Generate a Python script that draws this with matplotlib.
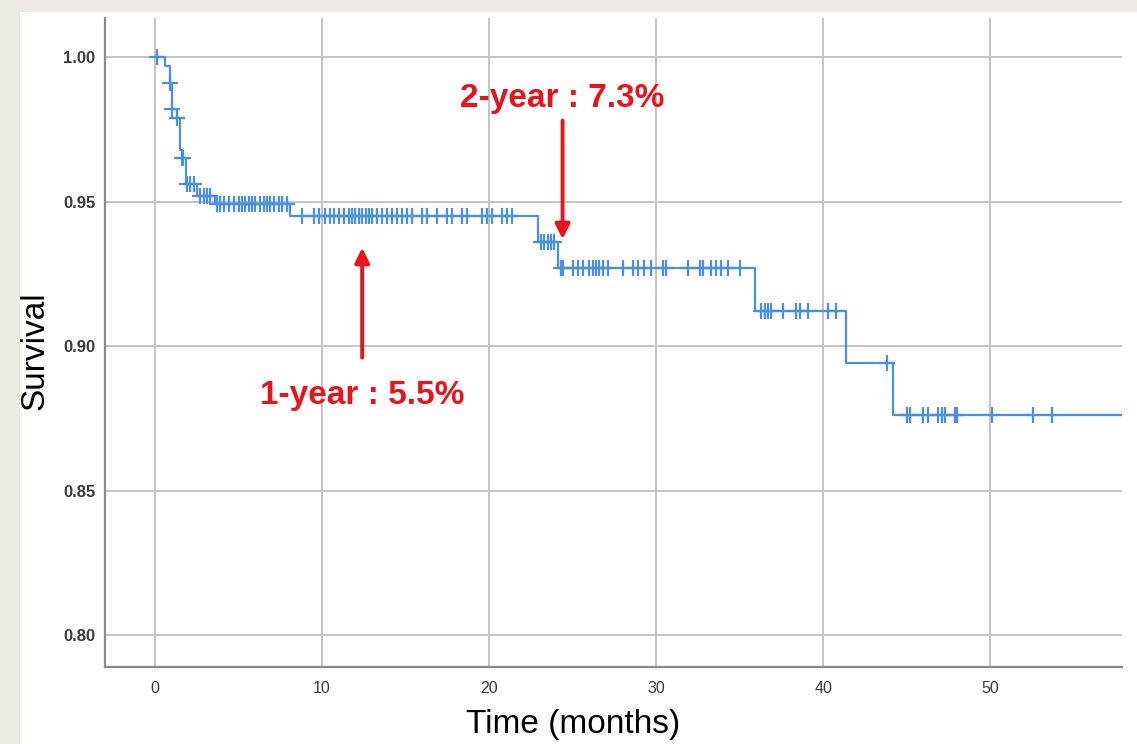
"""
Curva de supervivencia de Kaplan-Meier con marcas de censura
"""

import numpy as np
import matplotlib.pyplot as plt
from matplotlib.patches import Rectangle

# Tiempos de evento (meses) y supervivencia tras cada escalón
event_times = [0.0, 0.6, 0.9, 1.0, 1.3, 1.5, 1.6, 1.85, 2.5, 3.6,
               8.1, 22.9, 24.1, 35.9, 41.4, 44.2]
survival = [1.000, 0.997, 0.991, 0.982, 0.979, 0.968, 0.965, 0.956, 0.952, 0.949,
            0.945, 0.936, 0.927, 0.912, 0.894, 0.876]
t_end = 58.0

# Pacientes censurados (meses)
censor_times = [0.1, 0.9, 1.0, 1.3, 1.6, 1.7, 1.9, 2.1, 2.3,
                2.7, 2.9, 3.1, 3.3,
                3.7, 3.9, 4.1, 4.4, 4.7, 5.0, 5.2, 5.4, 5.6, 5.8, 6.0, 6.3,
                6.5, 6.7, 6.9, 7.1, 7.4, 7.6, 7.9,
                8.8, 9.5, 9.8, 10.2, 10.5, 10.7, 11.0, 11.3, 11.6, 11.8, 12.0,
                12.2, 12.4, 12.6, 12.8, 13.0, 13.3, 13.6, 13.9, 14.2, 14.5,
                14.8, 15.1, 15.4, 16.0, 16.3, 16.9, 17.5, 17.8, 18.4, 18.7,
                19.6, 19.9, 20.2, 20.8, 21.1, 21.4,
                23.1, 23.3, 23.5, 23.7, 23.9,
                24.3, 24.4, 25.0, 25.3, 25.6, 26.0, 26.2, 26.4, 26.6, 26.8,
                27.1, 28.0, 28.6, 28.9, 29.3, 29.7, 30.4, 30.6, 31.9, 32.6,
                32.8, 33.3, 33.6, 33.9, 34.3, 35.0,
                36.3, 36.5, 36.7, 36.9, 37.6, 38.4, 38.6, 39.1, 40.3, 40.8,
                43.8,
                45.0, 45.2, 46.0, 46.3, 46.9, 47.1, 47.3, 47.9, 48.0, 50.1,
                52.6, 53.7]

x_ticks = [0, 10, 20, 30, 40, 50]
y_ticks = [0.80, 0.85, 0.90, 0.95, 1.00]

# Anotaciones: (texto, x, y del texto, inicio flecha, punta flecha)
notes = [
    ("1-year : 5.5%", 12.4, 0.883, 0.896, 0.934),
    ("2-year : 7.3%", 24.4, 0.9855, 0.978, 0.937),
]

blue = '#4a90e2'
red = '#e8141c'

fig = plt.figure(figsize=(11.37, 7.44), dpi=100)
fig.patch.set_facecolor('#edeae4')
fig.add_artist(Rectangle((20 / 1137, 0), 1, 1 - 12 / 744,
                         transform=fig.transFigure, facecolor='white',
                         edgecolor='none', zorder=-10))

ax = fig.add_axes([105 / 1137, 1 - 667 / 744, (1122 - 105) / 1137, (667 - 18) / 744])
ax.set_facecolor('none')
ax.set_zorder(1)

# Curva escalonada
t_line = np.append(event_times, t_end)
s_line = np.append(survival, survival[-1])
ax.step(t_line, s_line, where='post', color=blue, linewidth=1.6, zorder=3)

# Censuras sobre la curva
idx = np.searchsorted(event_times, censor_times, side='right') - 1
s_cens = np.array(survival)[idx]
ax.plot(censor_times, s_cens, linestyle='none', marker='+', markersize=11,
        markeredgewidth=1.6, color=blue, zorder=4)

ax.set_xlim(-3.0, 57.9)
ax.set_ylim(0.789, 1.0135)
ax.set_xticks(x_ticks)
ax.set_yticks(y_ticks)
ax.set_yticklabels([f"{v:.2f}" for v in y_ticks])
ax.tick_params(length=0, labelcolor='#3a3a3a')
ax.tick_params(axis='x', pad=10, labelsize=11.5)
ax.tick_params(axis='y', pad=7, labelsize=12)
for lab in ax.get_xticklabels() + ax.get_yticklabels():
    lab.set_family('Liberation Sans')
for lab in ax.get_yticklabels():
    lab.set_fontweight('bold')

ax.grid(True, color='#c4c4c4', linewidth=1.4)
ax.set_axisbelow(True)
for side in ['top', 'right']:
    ax.spines[side].set_visible(False)
for side in ['left', 'bottom']:
    ax.spines[side].set_color('#8a8a8a')
    ax.spines[side].set_linewidth(1.6)

ax.set_xlabel('Time (months)', fontsize=24, family='Liberation Sans', va='center')
ax.set_ylabel('Survival', fontsize=24, family='Liberation Sans', va='center')
ax.xaxis.set_label_coords(0.46, -0.089)
ax.yaxis.set_label_coords(-0.069, 0.488)

for texto, x, y_txt, y0, y1 in notes:
    ax.annotate('', xy=(x, y1), xytext=(x, y0),
                arrowprops=dict(arrowstyle='-|>', color=red, lw=2.8,
                                mutation_scale=22, shrinkA=0, shrinkB=0))
    ax.text(x, y_txt, texto, color=red, fontsize=24, fontweight='bold',
            family='Liberation Sans', ha='center', va='center')

plt.savefig('out.png', dpi=100)
